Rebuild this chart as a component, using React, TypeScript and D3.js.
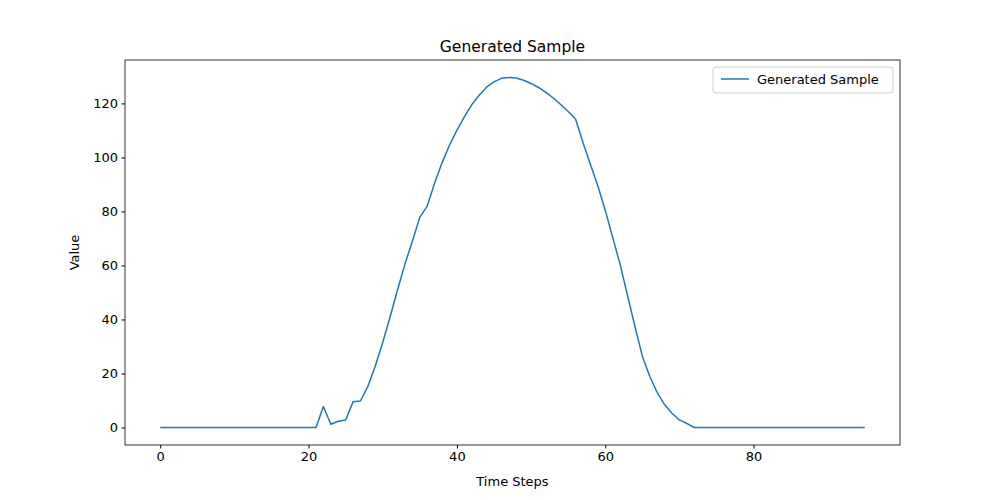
import React, { useEffect, useRef } from 'react';
import * as d3 from 'd3';

const zeros = (n: number) => Array.from({ length: n }, () => 0);

// value per time step
const sample: number[] = [
    ...zeros(22),
    7.8, 1.2, 2.3, 2.8, 9.5, 9.8, 15.2, 22.8, 31.5, 41, 51, 60.5, 69, 77.8, 82,
    90.5, 98, 104.5, 110, 115, 119.5, 123, 126, 128, 129.3, 129.6, 129.4, 128.6,
    127.4, 125.9, 124.1, 122, 119.6, 117, 114.2, 105.5, 97.5, 89.5, 80.5, 70.5, 60.5,
    49, 37.5, 26.5, 19, 13, 8.5, 5.3, 2.8, 1.5,
    ...zeros(24)
];
const xTicks = [0, 20, 40, 60, 80];
const yTicks = [0, 20, 40, 60, 80, 100, 120];
const title = 'Generated Sample';
const xLabel = 'Time Steps';
const yLabel = 'Value';

export default function App() {
    const ref = useRef<SVGSVGElement>(null);

    useEffect(() => {
        const svg = d3.select(ref.current!);
        svg.selectAll('*').remove();
        const width = 1000, height = 500;
        const m = { top: 60, right: 100, bottom: 55, left: 125 };
        const font = 'DejaVu Sans, sans-serif';

        const n = sample.length - 1;
        const x = d3.scaleLinear().domain([-n * 0.05, n * 1.05]).range([m.left, width - m.right]);
        const yMax = d3.max(sample)!;
        const y = d3.scaleLinear().domain([-yMax * 0.05, yMax * 1.05]).range([height - m.bottom, m.top]);

        svg.append('rect').attr('width', width).attr('height', height).attr('fill', 'white');

        const line = d3.line<number>().x((_, i) => x(i)).y((d) => y(d));
        svg.append('path').datum(sample).attr('d', line).attr('fill', 'none')
            .attr('stroke', '#1f77b4').attr('stroke-width', 1.5).attr('stroke-linejoin', 'round');

        const xa = svg.append('g').attr('transform', `translate(0,${height - m.bottom})`)
            .call(d3.axisBottom(x).tickValues(xTicks).tickSize(3.5).tickPadding(3.5).tickFormat(d3.format('d')));
        const ya = svg.append('g').attr('transform', `translate(${m.left},0)`)
            .call(d3.axisLeft(y).tickValues(yTicks).tickSize(3.5).tickPadding(3.5).tickFormat(d3.format('d')));
        [xa, ya].forEach((g) => {
            g.select('.domain').remove();
            g.selectAll('text').attr('font-family', font).attr('font-size', 13).attr('fill', '#000');
            g.selectAll('line').attr('stroke', '#000');
        });

        svg.append('rect').attr('x', m.left).attr('y', m.top)
            .attr('width', width - m.left - m.right).attr('height', height - m.top - m.bottom)
            .attr('fill', 'none').attr('stroke', '#000').attr('stroke-width', 0.8);

        svg.append('text').attr('x', (m.left + width - m.right) / 2).attr('y', m.top - 8)
            .attr('text-anchor', 'middle').attr('font-family', font).attr('font-size', 15.5).text(title);
        svg.append('text').attr('x', (m.left + width - m.right) / 2).attr('y', height - 14)
            .attr('text-anchor', 'middle').attr('font-family', font).attr('font-size', 13).text(xLabel);
        const cy = (m.top + height - m.bottom) / 2;
        svg.append('text').attr('transform', `translate(79,${cy}) rotate(-90)`)
            .attr('text-anchor', 'middle').attr('font-family', font).attr('font-size', 13).text(yLabel);

        // legend
        const lg = svg.append('g').attr('transform', `translate(713,67)`);
        lg.append('rect').attr('width', 180).attr('height', 26).attr('rx', 3)
            .attr('fill', 'white').attr('stroke', '#ccc');
        lg.append('line').attr('x1', 8).attr('x2', 36).attr('y1', 12).attr('y2', 12)
            .attr('stroke', '#1f77b4').attr('stroke-width', 1.5);
        lg.append('text').attr('x', 44).attr('y', 17).attr('font-family', font).attr('font-size', 13).text(title);
    }, []);

    return <svg ref={ref} width={1000} height={500} style={{ display: 'block', margin: -8 }} />;
}
